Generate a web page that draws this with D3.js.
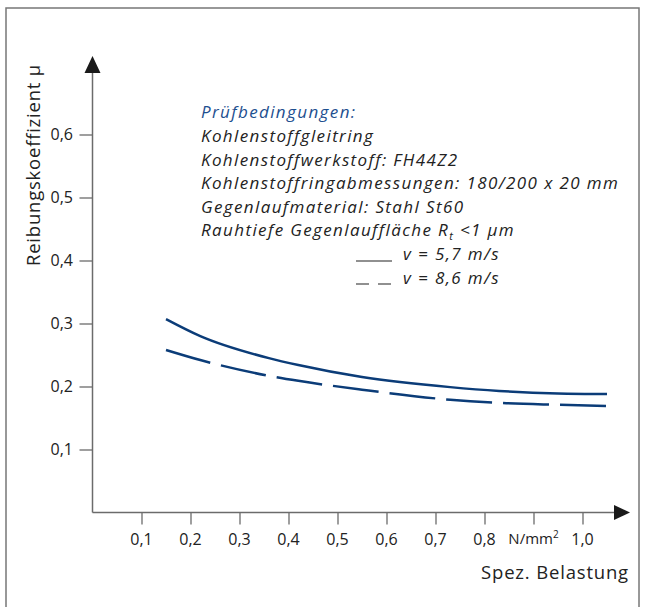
<!DOCTYPE html>
<html><head><meta charset="utf-8">
<script src="https://cdn.jsdelivr.net/npm/d3@7"></script>
<style>body{margin:0;background:#fff}svg{display:block}text{font-family:"Open Sans",sans-serif}</style>
</head><body>
<svg id="c" width="645" height="607"></svg>
<script>
const xTicks = [0.1,0.2,0.3,0.4,0.5,0.6,0.7,0.8,1.0];
const xTickMarks = [0.1,0.2,0.3,0.4,0.5,0.6,0.7,0.8,0.9,1.0];
const yTicks = [0.1,0.2,0.3,0.4,0.5,0.6];
const loadX = [0.15,0.22,0.36,0.42,0.55,0.73,0.83,0.95,1.05];
const muV57 = [0.307,0.280,0.245,0.234,0.215,0.199,0.193,0.189,0.188];
const muV86 = [0.258,0.242,0.217,0.209,0.195,0.179,0.174,0.171,0.169];
const infoLines = ["Kohlenstoffgleitring","Kohlenstoffwerkstoff: FH44Z2","Kohlenstoffringabmessungen: 180/200 x 20 mm","Gegenlaufmaterial: Stahl St60"];

const svg = d3.select("#c");
const fmt = v => d3.format(".1f")(v).replace(".", ",");
const x = d3.scaleLinear().domain([0,1]).range([92.5,582.5]);
const y = d3.scaleLinear().domain([0,0.6]).range([512.5,134.5]);
const axisCol = "#6b6b6b", curveCol = "#0b3c78";
function fit(sel, target){ const n=sel.node(); const len=n.getComputedTextLength(); const chars=n.textContent.length; sel.attr("letter-spacing",((target-len)/chars).toFixed(2)); }

// frame
svg.append("rect").attr("x",6).attr("y",8).attr("width",633).attr("height",620)
  .attr("fill","none").attr("stroke","#777").attr("stroke-width",1.5);

// axes
const gx = svg.append("g").attr("transform",`translate(0,${y(0)})`)
  .call(d3.axisBottom(x).tickValues(xTickMarks).tickSize(12).tickFormat(""));
gx.select(".domain").remove();
gx.selectAll("line").attr("stroke",axisCol).attr("stroke-width",1.3);
svg.append("line").attr("x1",x(0)).attr("x2",616).attr("y1",y(0)).attr("y2",y(0)).attr("stroke",axisCol).attr("stroke-width",1.5);
svg.append("path").attr("d",`M614,${y(0)-7.5}L630,${y(0)}L614,${y(0)+7.5}Z`).attr("fill","#1a1a1a");
svg.selectAll(".xl").data(xTicks).join("text").attr("x",d=>x(d)).attr("y",545)
  .attr("text-anchor","middle").attr("font-size",16).attr("fill","#222").text(fmt);
svg.append("text").attr("x",x(0.9)).attr("y",544).attr("text-anchor","middle").attr("font-size",15).attr("fill","#222")
  .html('N/mm<tspan dy="-6" font-size="10">2</tspan>');
const xlab = svg.append("text").attr("x",629).attr("y",579).attr("text-anchor","end").attr("font-size",18.5).attr("fill","#222").text("Spez. Belastung");
fit(xlab,148);

const gy = svg.append("g").attr("transform",`translate(${x(0)},0)`)
  .call(d3.axisLeft(y).tickValues(yTicks).tickSize(13).tickFormat(""));
gy.select(".domain").remove();
gy.selectAll("line").attr("stroke",axisCol).attr("stroke-width",1.3);
svg.append("line").attr("x1",x(0)).attr("x2",x(0)).attr("y1",y(0)).attr("y2",72).attr("stroke",axisCol).attr("stroke-width",1.5);
svg.append("path").attr("d",`M${x(0)-8},73L${x(0)},56L${x(0)+8},73Z`).attr("fill","#1a1a1a");
svg.selectAll(".yl").data(yTicks).join("text").attr("x",73).attr("y",d=>y(d)+5.5)
  .attr("text-anchor","end").attr("font-size",16).attr("fill","#222").text(fmt);
const ylab = svg.append("text").attr("transform","translate(40,266) rotate(-90)").attr("font-size",18.5).attr("fill","#222").text("Reibungskoeffizient µ");
fit(ylab,202);

// curves
const line = d3.line().x(d=>x(d[0])).y(d=>y(d[1])).curve(d3.curveMonotoneX);
svg.append("path").datum(loadX.map((v,i)=>[v,muV57[i]])).attr("d",line)
  .attr("fill","none").attr("stroke",curveCol).attr("stroke-width",2.5);
svg.append("path").datum(loadX.map((v,i)=>[v,muV86[i]])).attr("d",line)
  .attr("fill","none").attr("stroke",curveCol).attr("stroke-width",2.5).attr("stroke-dasharray","46 11");

// info block
const tx = 201, fs = 17;
const title = svg.append("text").attr("x",tx).attr("y",118).attr("font-size",fs).attr("font-style","italic").attr("fill","#1d4f8f").text("Prüfbedingungen:");
const info = svg.selectAll(".info").data(infoLines).join("text").attr("x",tx).attr("y",(d,i)=>142+i*23.6)
  .attr("font-size",fs).attr("font-style","italic").attr("fill","#222").text(d=>d);
const longest = info.filter((d,i)=>i===2);
fit(longest,418);
const ls = longest.attr("letter-spacing");
info.attr("letter-spacing",ls);
title.attr("letter-spacing",ls);
svg.append("text").attr("x",tx).attr("y",142+4*23.6).attr("font-size",fs).attr("font-style","italic").attr("fill","#222").attr("letter-spacing",ls)
  .html('Rauhtiefe Gegenlauffläche R<tspan dy="4" font-size="11">t</tspan><tspan dy="-4"> &lt;1 µm</tspan>');
svg.append("line").attr("x1",356).attr("x2",392).attr("y1",261).attr("y2",261).attr("stroke","#222").attr("stroke-width",1.2);
svg.append("line").attr("x1",356).attr("x2",392).attr("y1",284).attr("y2",284).attr("stroke","#222").attr("stroke-width",1.2).attr("stroke-dasharray","13 9");
svg.append("text").attr("x",403).attr("y",260).attr("font-size",fs).attr("font-style","italic").attr("fill","#222").attr("letter-spacing",ls).text("v = 5,7 m/s");
svg.append("text").attr("x",403).attr("y",283.5).attr("font-size",fs).attr("font-style","italic").attr("fill","#222").attr("letter-spacing",ls).text("v = 8,6 m/s");
</script>
</body></html>
